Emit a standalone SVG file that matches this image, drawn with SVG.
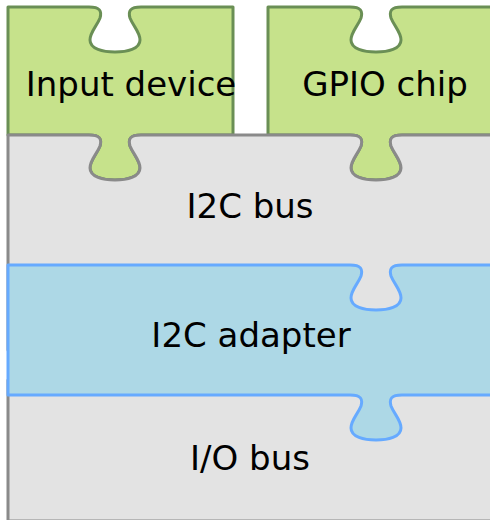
<svg xmlns="http://www.w3.org/2000/svg" width="490" height="520" viewBox="0 0 490 520">
  <style>
    .green { fill: #c6e28b; stroke: #6a8f55; stroke-width: 3; stroke-linejoin: round; }
    .gray { fill: #e3e3e3; stroke: #8a8a8a; stroke-width: 3; stroke-linejoin: round; }
    .blue { fill: #add8e6; stroke: #66aaff; stroke-width: 3; stroke-linejoin: round; }
    text { font-family: "DejaVu Sans", "Liberation Sans", sans-serif; font-size: 34px; fill: #000; text-anchor: middle; }
  </style>
  <rect x="0" y="0" width="490" height="520" fill="#ffffff"/>
  <g id="input-device">
    <path class="green" d="M 8,7 H 89 c 11,0 13,4 11,11 c -3,8 -10,14 -10,22 c 0,9 13,12 25,12 c 12,0 25,-3 25,-12 c 0,-8 -7,-14 -10,-22 c -2,-7 0,-11 11,-11 H 233 V 135 H 141 c -11,0 -13,4 -11,11 c 3,8 10,14 10,22 c 0,9 -13,12 -25,12 c -12,0 -25,-3 -25,-12 c 0,-8 7,-14 10,-22 c 2,-7 0,-11 -11,-11 H 8 Z"/>
    <text x="131" y="96">Input device</text>
  </g>
  <g id="gpio-chip">
    <path class="green" d="M 268,7 H 350 c 11,0 13,4 11,11 c -3,8 -10,14 -10,22 c 0,9 13,12 25,12 c 12,0 25,-3 25,-12 c 0,-8 -7,-14 -10,-22 c -2,-7 0,-11 11,-11 H 505 V 135 H 402 c -11,0 -13,4 -11,11 c 3,8 10,14 10,22 c 0,9 -13,12 -25,12 c -12,0 -25,-3 -25,-12 c 0,-8 7,-14 10,-22 c 2,-7 0,-11 -11,-11 H 268 Z"/>
    <text x="385" y="96">GPIO chip</text>
  </g>
  <g id="i2c-bus">
    <path class="gray" d="M 8,350 V 135 H 89 c 11,0 13,4 11,11 c -3,8 -10,14 -10,22 c 0,9 13,12 25,12 c 12,0 25,-3 25,-12 c 0,-8 -7,-14 -10,-22 c -2,-7 0,-11 11,-11 H 350 c 11,0 13,4 11,11 c -3,8 -10,14 -10,22 c 0,9 13,12 25,12 c 12,0 25,-3 25,-12 c 0,-8 -7,-14 -10,-22 c -2,-7 0,-11 11,-11 H 505 V 350 Z"/>
    <text x="250" y="218">I2C bus</text>
  </g>
  <g id="io-bus">
    <path class="gray" d="M 8,380 H 505 V 521 H 8 Z"/>
    <text x="250" y="470">I/O bus</text>
  </g>
  <g id="i2c-adapter">
    <path class="blue" d="M 8,265 H 350 c 11,0 13,4 11,11 c -3,8 -10,14 -10,22 c 0,9 13,12 25,12 c 12,0 25,-3 25,-12 c 0,-8 -7,-14 -10,-22 c -2,-7 0,-11 11,-11 H 505 V 395 H 402 c -11,0 -13,4 -11,11 c 3,8 10,14 10,22 c 0,9 -13,12 -25,12 c -12,0 -25,-3 -25,-12 c 0,-8 7,-14 10,-22 c 2,-7 0,-11 -11,-11 H 8 Z"/>
    <text x="251" y="347">I2C adapter</text>
  </g>
</svg>
